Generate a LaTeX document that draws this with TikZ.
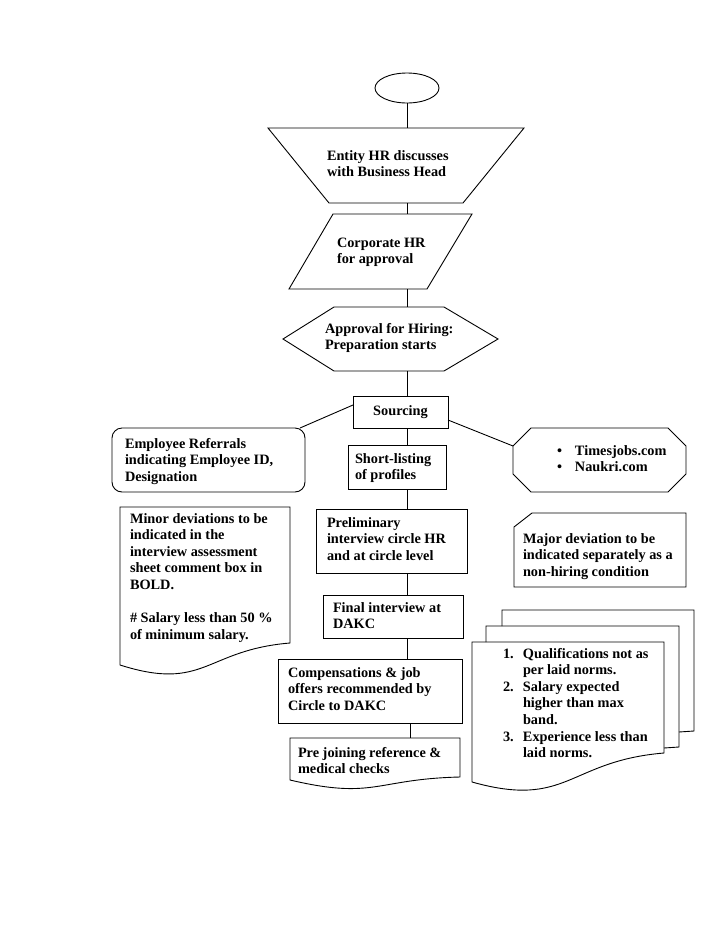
\documentclass[tikz,border=0pt]{standalone}
\usepackage{fontspec}
\setmainfont{Liberation Serif}
\usetikzlibrary{shapes.geometric,calc}
\newcommand\tf{\fontsize{14.3}{16.6}\selectfont\bfseries}
\newcommand\TX[5]{\node[tx] (#1) at (#2,{#3+(#4-1)*8.3-3.32}) {\strut #5\strut};}
\begin{document}
\begin{tikzpicture}[x=1pt,y=-1pt,
  ln/.style={line width=0.9pt},
  frame/.style={inner sep=0pt, outer sep=0pt, rectangle},
  box/.style={frame, draw, line width=0.9pt},
  tx/.style={inner sep=0pt, outer sep=0pt, align=left, anchor=west, font=\tf}]
\fill[white] (0,0) rectangle (728,943);
\useasboundingbox (0,0) rectangle (728,943);

% start oval
\node[ellipse, draw, line width=0.9pt, inner sep=0pt, minimum width=64, minimum height=30] (start) at (407,88) {};

% trapezoid
\node[frame, minimum width=256, minimum height=75] (entity) at (396,165.5) {};
\draw[ln] (entity.north west) -- (entity.north east) -- ($(entity.south east)+(-61,0)$) -- ($(entity.south west)+(61,0)$) -- cycle;
\TX{entityT}{327}{160}{2}{Entity HR discusses\\with Business Head}

% parallelogram
\node[frame, minimum width=183, minimum height=75] (corp) at (380.5,251.5) {};
\draw[ln] ($(corp.north west)+(44,0)$) -- (corp.north east) -- ($(corp.south east)+(-45,0)$) -- (corp.south west) -- cycle;
\TX{corpT}{337}{247}{2}{Corporate HR\\for approval}

% hexagon
\node[frame, minimum width=215, minimum height=64] (hex) at (390.5,339) {};
\draw[ln] (hex.west) -- ($(hex.north west)+(51,0)$) -- ($(hex.north east)+(-54,0)$) -- (hex.east) -- ($(hex.south east)+(-54,0)$) -- ($(hex.south west)+(51,0)$) -- cycle;
\TX{hexT}{325}{333}{2}{Approval for Hiring:\\Preparation starts}

% main column boxes
\node[box, minimum width=95, minimum height=32, font=\tf] (src) at (400.5,412) {Sourcing};
\node[box, minimum width=98, minimum height=44] (short) at (397,467) {};
\TX{shortT}{355}{463}{2}{Short-listing\\of profiles}
\node[box, minimum width=151, minimum height=64] (prelim) at (391.5,541) {};
\TX{prelimT}{327}{527}{3}{Preliminary\\interview circle HR\\and at circle level}
\node[box, minimum width=140, minimum height=43] (final) at (393,616.5) {};
\TX{finalT}{333}{612}{2}{Final interview at\\DAKC}
\node[box, minimum width=184, minimum height=64] (comp) at (370,691) {};
\TX{compT}{288}{677}{3}{Compensations \& job\\offers recommended by\\Circle to DAKC}

% pre joining document
\node[frame, minimum width=170, minimum height=42] (pj) at (375,759) {};
\draw[ln] (pj.south west) -- (pj.north west) -- (pj.north east) -- ($(pj.south east)+(0,-3)$)
  .. controls ($(pj.south)+(0,-1)$) and ($(pj.south)+(0,20)$) .. (pj.south west) -- cycle;
\TX{pjT}{298}{757}{2}{Pre joining reference \&\\medical checks}

% employee referrals
\node[box, rounded corners=10pt, minimum width=193, minimum height=64] (ref) at (208.5,460) {};
\TX{refT}{125}{448}{3}{Employee Referrals\\indicating Employee ID,\\Designation}

% octagon
\node[frame, minimum width=173, minimum height=64] (oct) at (599.5,460) {};
\draw[ln] ($(oct.west)+(0,-14)$) -- ($(oct.north west)+(18,0)$) -- ($(oct.north east)+(-18,0)$) -- ($(oct.east)+(0,-14)$) -- ($(oct.east)+(0,14)$) -- ($(oct.south east)+(-18,0)$) -- ($(oct.south west)+(18,0)$) -- ($(oct.west)+(0,14)$) -- cycle;
\TX{octT}{557}{455}{2}{\makebox[18pt][l]{\textbullet}Timesjobs.com\\\makebox[18pt][l]{\textbullet}Naukri.com}

% minor deviations document
\draw[ln] (120,665) -- (120,507) -- (290,507) -- (290,643) .. controls (205,650) and (205,692) .. (120,665) -- cycle;
\TX{minorT}{130}{523}{8}{Minor deviations to be\\indicated in the\\interview assessment\\sheet comment box in\\BOLD.\\~\\\# Salary less than 50 \%\\of minimum salary.}

% major deviation (snipped corner)
\draw[ln] (514,527) -- (532,513) -- (686,513) -- (686,587) -- (514,587) -- cycle;
\TX{majorT}{523}{543}{3}{Major deviation to be\\indicated separately as a\\non-hiring condition}

% multi-document
\draw[ln] (502,626) -- (502,610) -- (694,610) -- (694,731) -- (679,732);
\draw[ln] (486,642) -- (486,626) -- (679,626) -- (679,747) -- (664,748);
\draw[ln] (472,782) -- (472,642) -- (664,642) -- (664,753) .. controls (568,761) and (568,809) .. (472,782) -- cycle;
\TX{listT}{503}{658}{7}{\makebox[20pt][l]{1.}Qualifications not as\\\hspace*{20pt}per laid norms.\\\makebox[20pt][l]{2.}Salary expected\\\hspace*{20pt}higher than max\\\hspace*{20pt}band.\\\makebox[20pt][l]{3.}Experience less than\\\hspace*{20pt}laid norms.}

% connectors
\draw[ln] (start.south) -- (start.south |- entity.north);
\draw[ln] (entity.south -| start.south) -- (corp.north -| start.south);
\draw[ln] (corp.south -| start.south) -- (hex.north -| start.south);
\draw[ln] (hex.south -| start.south) -- (src.north -| start.south);
\draw[ln] (src.south -| start.south) -- (short.north -| start.south);
\draw[ln] (short.south -| start.south) -- (prelim.north -| start.south);
\draw[ln] (prelim.south -| start.south) -- (final.north -| start.south);
\draw[ln] (final.south -| start.south) -- (comp.north -| start.south);
\draw[ln] ($(comp.south -| start.south)+(3,0)$) -- ($(pj.north -| start.south)+(3,0)$);
\draw[ln] ($(src.north west)+(0,9)$) -- ($(ref.north east)+(-5,0)$);
\draw[ln] ($(src.south east)+(0,-8)$) -- ($(oct.west)+(0,-14)$);
\end{tikzpicture}
\end{document}
